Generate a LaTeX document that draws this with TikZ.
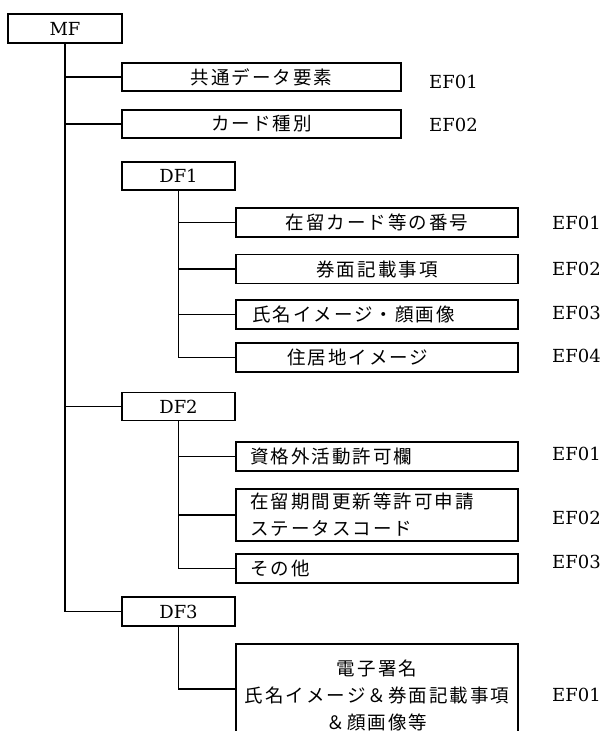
\documentclass[tikz,border=0pt]{standalone}
\usepackage{fontspec}
\newfontfamily\jpfont[LetterSpace=11]{Noto Sans CJK JP}
\newfontfamily\latfont{DejaVu Serif}
\begin{document}
\begin{tikzpicture}[x=1pt,y=-1pt,
  box/.style={draw,line width=1.3pt,inner sep=0pt,minimum height=29pt},
  lab/.style={font=\latfont\fontsize{18}{22}\selectfont},
  jp/.style={font=\jpfont\fontsize{18.5}{27}\selectfont},
  lbox/.style={align=left,inner xsep=#1,text width=282pt-2*#1},
  ef/.style={font=\latfont\fontsize{18}{22}\selectfont,anchor=west,inner sep=0pt,text height=13pt,text depth=0pt},
  trunk/.style={line width=1.8pt},
  branch/.style={line width=1.3pt}]
\useasboundingbox (0,0) rectangle (604,731);
\clip (0,0) rectangle (604,731);
% boxes
\node[box,lab,minimum width=114pt] (mf) at (65,28.5) {MF};
\node[box,jp,minimum width=279pt,minimum height=28pt] (e1) at (261.5,77) {共通データ要素};
\node[box,jp,minimum width=279pt,minimum height=28pt] (e2) at (261.5,124) {カード種別};
\node[box,lab,minimum width=113pt,minimum height=28pt] (df1) at (178.5,176) {DF1};
\node[box,jp,minimum width=282pt] (a1) at (377,222.5) {在留カード等の番号};
\node[box,jp,minimum width=282pt] (a2) at (377,269) {券面記載事項};
\node[box,jp,minimum width=282pt,lbox=16pt] (a3) at (377,314.5) {氏名イメージ・顔画像};
\node[box,jp,minimum width=282pt,lbox=51pt] (a4) at (377,357.5) {住居地イメージ};
\node[box,lab,minimum width=113pt,minimum height=28pt] (df2) at (178.5,406.5) {DF2};
\node[box,jp,minimum width=282pt,lbox=14pt] (b1) at (377,456.5) {資格外活動許可欄};
\node[box,jp,minimum width=282pt,minimum height=52pt,lbox=14pt] (b2) at (377,515) {在留期間更新等許可申請\\ステータスコード};
\node[box,jp,minimum width=282pt,lbox=14pt] (b3) at (377,568.5) {その他};
\node[box,lab,minimum width=113pt] (df3) at (178.5,611.5) {DF3};
\node[box,minimum width=282pt,minimum height=90pt] (c1) at (377,689) {};
\node[jp,align=center,inner sep=0pt] (c1t) at (377,695.5) {電子署名\\氏名イメージ＆券面記載事項\\＆顔画像等};
% EF labels
\node[ef] (l1) at (429,82) {EF01};
\node[ef] (l2) at (429,125) {EF02};
\node[ef] (la1) at (552,223) {EF01};
\node[ef] (la2) at (552,269) {EF02};
\node[ef] (la3) at (552,313) {EF03};
\node[ef] (la4) at (552,356) {EF04};
\node[ef] (lb1) at (552,454) {EF01};
\node[ef] (lb2) at (552,518) {EF02};
\node[ef] (lb3) at (552,562) {EF03};
\node[ef] (lc1) at (552,695) {EF01};
% connectors
\draw[trunk] (mf.south) |- (df3.west);
\draw[branch] (mf.south |- e1.west) -- (e1.west);
\draw[branch] (mf.south |- e2.west) -- (e2.west);
\draw[branch] (mf.south |- df2.west) -- (df2.west);
\draw[trunk] (df1.south) |- (a4.west);
\draw[branch] (df1.south |- a1.west) -- (a1.west);
\draw[branch] (df1.south |- a2.west) -- (a2.west);
\draw[branch] (df1.south |- a3.west) -- (a3.west);
\draw[trunk] (df2.south) |- (b3.west);
\draw[branch] (df2.south |- b1.west) -- (b1.west);
\draw[branch] (df2.south |- b2.west) -- (b2.west);
\draw[trunk] (df3.south) |- (c1.west);
\end{tikzpicture}
\end{document}
